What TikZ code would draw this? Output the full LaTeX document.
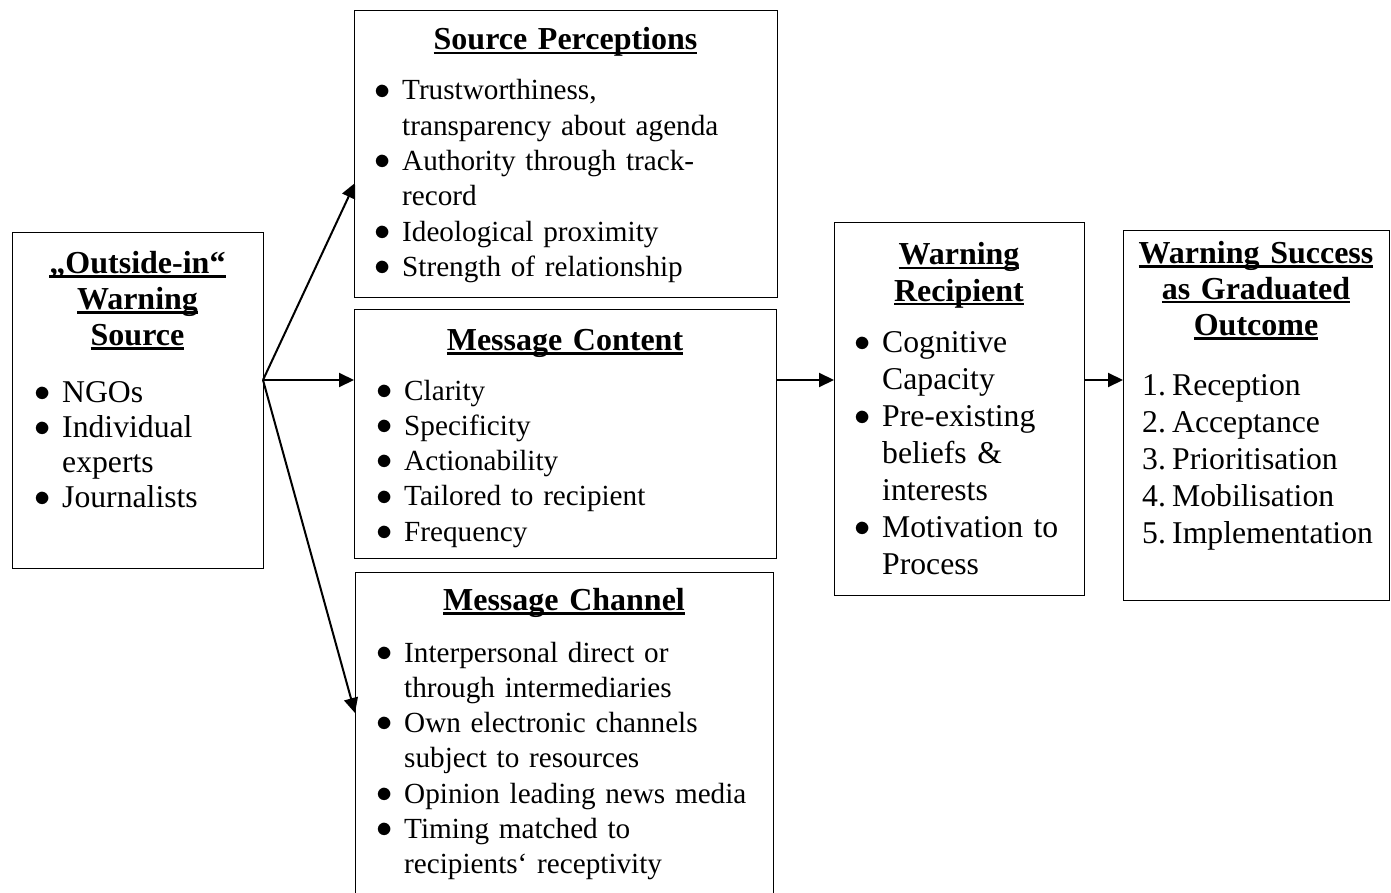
\documentclass[tikz,border=0pt]{standalone}
\usepackage{graphicx}
\usepackage{fontspec}
\setmainfont{Liberation Serif}
\usetikzlibrary{arrows.meta}

% underline at a fixed depth, as in the heading lines
\newcommand{\headul}[1]{\leavevmode\setbox0=\hbox{#1}\rlap{\rule[-4.5pt]{\wd0}{2.5pt}}\box0}
\newcommand{\bigdot}{\raisebox{0.03em}{\scalebox{1.3}{$\bullet$}}}
\newcommand{\bitem}[1]{\noindent\hangindent=28pt\hangafter=1\makebox[28pt][l]{\bigdot}#1\par}
\newcommand{\nitem}[2]{\noindent\hangindent=30pt\hangafter=1\makebox[30pt][l]{#1}#2\par}

\begin{document}
\begin{tikzpicture}[x=1pt,y=-1pt,
    box/.style={draw, line width=1.3pt, anchor=north west, inner sep=0pt},
    heading/.style={font=\fontsize{32}{36}\selectfont\bfseries, text width=#1, align=center, anchor=base, inner sep=0pt},
    listsm/.style={anchor=base west, inner sep=0pt, text width=#1, font=\fontsize{29.2}{35.3}\selectfont},
    listlg/.style={anchor=base west, inner sep=0pt, text width=230pt, font=\fontsize{31.7}{#1}\selectfont},
    arrow/.style={-{Triangle[length=15pt,width=14pt]}, line width=2pt}]
    \path[use as bounding box, clip] (0,0) rectangle (1391,893);

    % boxes
    \node[box, minimum width=251pt, minimum height=336pt] (src) at (12,232) {};
    \node[box, minimum width=423pt, minimum height=287pt] (sp) at (354,10) {};
    \node[box, minimum width=422pt, minimum height=249pt] (mc) at (354,309) {};
    \node[box, minimum width=418pt, minimum height=340pt] (ch) at (355,572) {};
    \node[box, minimum width=250pt, minimum height=373pt] (wr) at (834,222) {};
    \node[box, minimum width=266pt, minimum height=370pt] (wo) at (1123,230) {};

    % headings
    \node[heading=240pt] (srctitle) at (137.5,273) {\headul{„Outside-in“}\\ \headul{Warning}\\ \headul{Source}};
    \node[heading=400pt] (sptitle) at (565.5,50) {\headul{Source Perceptions}};
    \node[heading=400pt] (mctitle) at (565,350) {\headul{Message Content}};
    \node[heading=400pt] (chtitle) at (564,610) {\headul{Message Channel}};
    \node[heading=240pt] (wrtitle) at (959,265) {\headul{Warning}\\ \headul{Recipient}};
    \node[heading=260pt] (wotitle) at (1256,263) {\headul{Warning Success}\\ \headul{as Graduated}\\ \headul{Outcome}};

    % lists
    \node[listlg=35] (srclist) at (34,402) {\bitem{NGOs}\bitem{Individual\newline experts}\bitem{Journalists}};
    \node[listsm=390pt] (splist) at (374,100) {\bitem{Trustworthiness,\newline transparency about agenda}\bitem{Authority through track-\newline record}\bitem{Ideological proximity}\bitem{Strength of relationship}};
    \node[listsm=390pt] (mclist) at (376,400) {\bitem{Clarity}\bitem{Specificity}\bitem{Actionability}\bitem{Tailored to recipient}\bitem{Frequency}};
    \node[listsm=390pt] (chlist) at (376,662) {\bitem{Interpersonal direct or\newline through intermediaries}\bitem{Own electronic channels\newline subject to resources}\bitem{Opinion leading news media}\bitem{Timing matched to\newline recipients‘ receptivity}};
    \node[listlg=37] (wrlist) at (854,352) {\bitem{Cognitive\newline Capacity}\bitem{Pre-existing\newline beliefs \&\newline interests}\bitem{Motivation to\newline Process}};
    \node[listlg=37] (wolist) at (1142,395) {\nitem{1.}{Reception}\nitem{2.}{Acceptance}\nitem{3.}{Prioritisation}\nitem{4.}{Mobilisation}\nitem{5.}{Implementation}};

    % connectors
    \coordinate (fork) at (263,380);
    \coordinate (sptip) at (355,183);
    \coordinate (chtip) at (355,713);
    \draw[arrow] (fork) -- (sptip);
    \draw[arrow] (fork) -- (fork -| mc.west);
    \draw[arrow] (fork) -- (chtip);
    \draw[arrow] (fork -| mc.east) -- (fork -| wr.west);
    \draw[arrow] (fork -| wr.east) -- (fork -| wo.west);
\end{tikzpicture}
\end{document}
